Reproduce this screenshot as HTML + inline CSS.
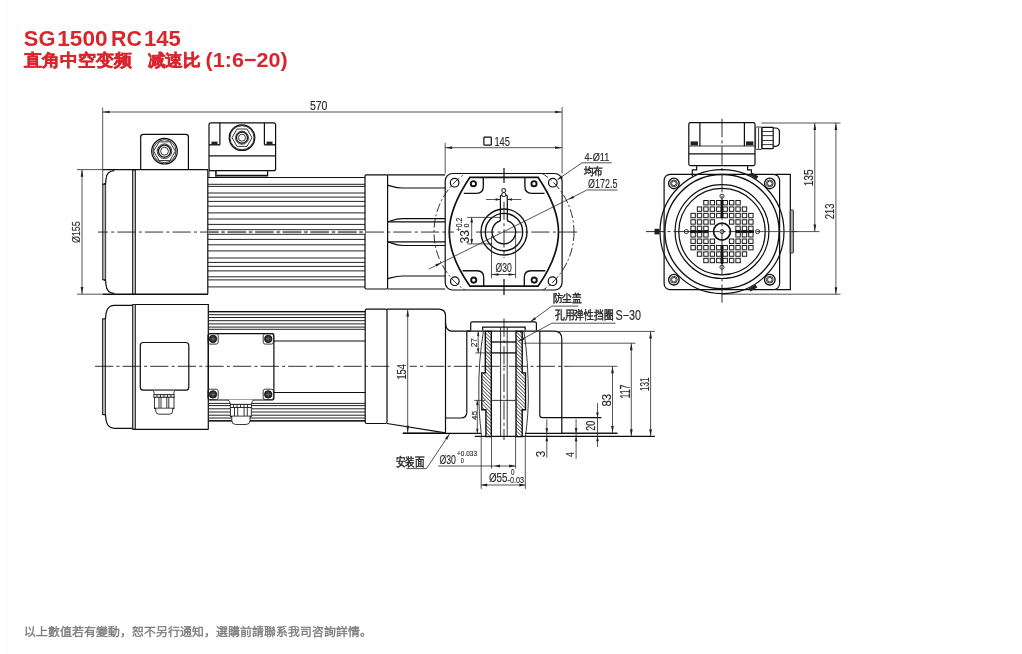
<!DOCTYPE html>
<html><head><meta charset="utf-8"><title>SG 1500 RC 145</title>
<style>
html,body{margin:0;padding:0;background:#fff;}
body{width:1022px;height:654px;position:relative;overflow:hidden;font-family:"Liberation Sans",sans-serif;}
.edge{position:absolute;left:7px;top:0;width:1px;height:654px;background:#fafafa;}
.ft{position:absolute;left:24px;top:624px;font-size:11.9px;color:#7c7c7c;-webkit-text-stroke:0.35px #7c7c7c;white-space:nowrap;line-height:16px;}
svg{position:absolute;left:0;top:0;will-change:transform;}
.l{stroke:#0d0d0d;stroke-width:1.2;fill:none;}
.lt{stroke:#111;stroke-width:1.35;fill:none;}
.lt2{stroke:#111;stroke-width:1.7;fill:none;}
.thin{stroke:#222;stroke-width:0.9;fill:none;}
.thinw{stroke:#222;stroke-width:0.9;fill:#fff;}
.rib{stroke:#222;stroke-width:1;fill:none;}
.band{stroke:#1a1a1a;stroke-width:0.85;fill:#b0b0b0;}
.fill{fill:#222;stroke:none;}
.ring{stroke:#111;stroke-width:1.9;fill:#fff;}
.screw{fill:#2a2a2a;stroke:#0d0d0d;stroke-width:0.9;}
.sx{stroke:#8a8a8a;stroke-width:0.6;}
.sq{stroke:#1a1a1a;stroke-width:1.0;fill:#fff;}
.bar{stroke:#111;stroke-width:2.2;}
.d{stroke:#2a2a2a;stroke-width:0.8;fill:none;}
.ah{fill:#222;stroke:none;}
.cl{stroke:#1a1a1a;stroke-width:0.9;stroke-dasharray:18.2 3.3 3 3.1;fill:none;}
.cc{stroke:#1a1a1a;stroke-width:0.9;stroke-dasharray:9 2.5 2 2.5;fill:none;}
.hatch{stroke:#0a0a0a;stroke-width:1.35;fill:url(#hp);}
.ttl{fill:#d9262c;font-weight:bold;font-family:"Liberation Sans",sans-serif;}
.ttlc{fill:#d9262c;stroke:#d9262c;stroke-width:0.45;font-weight:900;font-family:"Liberation Sans",sans-serif;}
.dt{fill:#2a2a2a;stroke:#2a2a2a;stroke-width:0.15;font-family:"Liberation Sans",sans-serif;}
.ct{fill:#222;stroke:#222;stroke-width:0.42;font-family:"Liberation Sans",sans-serif;}
</style></head>
<body>
<div class="edge"></div>
<svg width="1022" height="654" viewBox="0 0 1022 654">
<defs>
<pattern id="hp" patternUnits="userSpaceOnUse" width="2.5" height="2.5" patternTransform="rotate(-45)">
<rect width="2.5" height="2.5" fill="#fff"/><line x1="0" y1="0" x2="0" y2="2.5" stroke="#151515" stroke-width="1.2"/>
</pattern>
<clipPath id="pcdclip"><rect x="400" y="173.5" width="200" height="116.5"/></clipPath>
</defs>
<line class="d" x1="102.7" y1="107.5" x2="102.7" y2="184.5"/>
<line class="d" x1="562.1" y1="107" x2="562.1" y2="173.5"/>
<line class="d" x1="102.6" y1="112" x2="562.1" y2="112"/>
<path class="ah" d="M102.6 112L109.6 110.65L109.6 113.35Z"/>
<path class="ah" d="M562.1 112L555.1 113.35L555.1 110.65Z"/>
<text class="dt" x="309.88" y="109.77" font-size="12.96" textLength="17.58" lengthAdjust="spacingAndGlyphs">570</text>
<line class="d" x1="77" y1="169.6" x2="102.7" y2="169.6"/>
<line class="d" x1="77" y1="294.2" x2="102.7" y2="294.2"/>
<line class="d" x1="82" y1="169.8" x2="82" y2="294"/>
<path class="ah" d="M82 169.8L83.35 176.8L80.65 176.8Z"/>
<path class="ah" d="M82 294L80.65 287L83.35 287Z"/>
<text class="dt" x="79.63" y="243.06" font-size="10.74" textLength="21.83" lengthAdjust="spacingAndGlyphs" transform="rotate(-90 79.63 243.06)">&#216;155</text>
<line class="lt" x1="102.7" y1="169.6" x2="208" y2="169.6"/>
<line class="lt" x1="102.7" y1="294.2" x2="208" y2="294.2"/>
<line class="l" x1="207.8" y1="169.8" x2="207.8" y2="294"/>
<path class="l" d="M114.3 170.6 C109 170.8 106.5 173 106 179 L105.6 183.4 L102.7 184.6" />
<path class="l" d="M114.3 293.4 C109 293.2 106.5 291 106 285 L105.6 280.6 L102.7 279.4" />
<rect class="band" x="102.7" y="184.4" width="3" height="95.2" />
<rect class="band" x="132.5" y="170.2" width="3" height="123.6" />
<path class="l" d="M140.7 169.5 V137 Q140.7 134.3 143.4 134.3 H185.7 Q188.4 134.3 188.4 137 V169.5" />
<circle class="l" cx="164.5" cy="151.2" r="12.8" />
<circle class="thin" cx="164.5" cy="151.2" r="11.5" />
<polygon class="thin" points="175.3,151.2 169.9,160.55 159.1,160.55 153.7,151.2 159.1,141.85 169.9,141.85"/>
<circle class="thin" cx="164.5" cy="151.2" r="7.3" />
<circle class="l" cx="164.5" cy="151.2" r="6" />
<circle class="thin" cx="164.5" cy="151.2" r="3.9" />
<rect class="l" x="209" y="122.8" width="66.6" height="47.9" rx="2" />
<line class="lt" x1="209" y1="155.8" x2="275.6" y2="155.8"/>
<line class="l" x1="219.9" y1="122.8" x2="219.9" y2="144.8"/>
<line class="l" x1="264.4" y1="122.8" x2="264.4" y2="144.8"/>
<line class="lt" x1="209" y1="144.8" x2="219.9" y2="144.8"/>
<line class="lt" x1="264.4" y1="144.8" x2="275.6" y2="144.8"/>
<rect class="fill" x="211.5" y="141.6" width="6" height="3" />
<rect class="fill" x="266.5" y="141.6" width="6" height="3" />
<circle class="l" cx="242" cy="137.7" r="12.8" />
<circle class="thin" cx="242" cy="137.7" r="12" />
<polygon class="thin" points="252,137.7 247,146.36 237,146.36 232,137.7 237,129.04 247,129.04"/>
<circle class="thin" cx="242" cy="137.7" r="6.5" />
<circle class="l" cx="242" cy="137.7" r="5.5" />
<circle class="thin" cx="242" cy="137.7" r="3.5" />
<path class="l" d="M215.9 170.7 V176 H267.6 V170.7" />
<line class="lt" x1="216.5" y1="175.3" x2="267" y2="175.3"/>
<rect class="thin" x="209" y="170.7" width="6.9" height="6.8" />
<line class="l" x1="207.8" y1="177.5" x2="365" y2="177.5"/>
<line class="rib" x1="207.8" y1="184.3" x2="365" y2="184.3"/>
<line class="rib" x1="207.8" y1="186.4" x2="365" y2="186.4"/>
<line class="rib" x1="207.8" y1="193" x2="365" y2="193"/>
<line class="rib" x1="207.8" y1="197.1" x2="365" y2="197.1"/>
<line class="rib" x1="207.8" y1="201.4" x2="365" y2="201.4"/>
<line class="rib" x1="207.8" y1="206.2" x2="365" y2="206.2"/>
<line class="rib" x1="207.8" y1="212.9" x2="365" y2="212.9"/>
<line class="rib" x1="207.8" y1="219" x2="365" y2="219"/>
<line class="rib" x1="207.8" y1="224.4" x2="365" y2="224.4"/>
<line class="rib" x1="207.8" y1="229.7" x2="365" y2="229.7"/>
<line class="rib" x1="207.8" y1="234.3" x2="365" y2="234.3"/>
<line class="rib" x1="207.8" y1="239.4" x2="365" y2="239.4"/>
<line class="rib" x1="207.8" y1="244.8" x2="365" y2="244.8"/>
<line class="rib" x1="207.8" y1="250.9" x2="365" y2="250.9"/>
<line class="rib" x1="207.8" y1="258" x2="365" y2="258"/>
<line class="rib" x1="207.8" y1="262.4" x2="365" y2="262.4"/>
<line class="rib" x1="207.8" y1="266.4" x2="365" y2="266.4"/>
<line class="rib" x1="207.8" y1="270.9" x2="365" y2="270.9"/>
<line class="rib" x1="207.8" y1="276.8" x2="365" y2="276.8"/>
<line class="rib" x1="207.8" y1="279.9" x2="365" y2="279.9"/>
<line class="rib" x1="207.8" y1="286.9" x2="365" y2="286.9"/>
<rect class="l" x="365" y="174.8" width="22.6" height="114.2" rx="1.2" />
<line class="l" x1="387.6" y1="174.9" x2="445.2" y2="174.9"/>
<line class="l" x1="387.6" y1="289" x2="445.2" y2="289"/>
<path class="l" d="M387.6 185.2 C393 186.6 396 188 402.5 188 H445.2" />
<path class="l" d="M387.6 278.7 C393 277.3 396 276 402.5 276 H445.2" />
<path class="l" d="M387.6 221.9 C393 220.2 396 218.7 402.5 218.7 H445.2" />
<line class="l" x1="387.6" y1="221.9" x2="445.2" y2="221.9"/>
<path class="l" d="M387.6 241.8 C393 243.5 396 245.5 402.5 245.5 H445.2" />
<line class="l" x1="387.6" y1="241.8" x2="445.2" y2="241.8"/>
<rect class="l" x="445.2" y="173.5" width="116.9" height="116.5" rx="7.5" />
<circle class="l" cx="454.6" cy="182.7" r="4.3" />
<circle class="l" cx="552.8" cy="182.7" r="4.3" />
<circle class="l" cx="454.8" cy="281.2" r="4.3" />
<circle class="l" cx="552.5" cy="281.2" r="4.3" />
<path class="lt2" d="M470 177.3 H538 C548 192 558.5 212 558.5 232 C558.5 252 548 272 538 286.2 H470 C460 272 449.3 252 449.3 232 C449.3 212 460 192 470 177.3 Z" />
<path class="lt" d="M483.3 177.5 V186.6 Q483.3 193.4 476.5 193.4 H463.8" />
<path class="lt" d="M524.9 177.5 V186.6 Q524.9 193.4 531.7 193.4 H544.5" />
<path class="lt" d="M483.7 286 V277.5 Q483.7 270.7 476.9 270.7 H462.6" />
<path class="lt" d="M524.3 286 V277.5 Q524.3 270.7 531.1 270.7 H545.3" />
<circle class="ring" cx="473.4" cy="183.7" r="2.6" />
<circle class="ring" cx="534" cy="183.7" r="2.6" />
<circle class="ring" cx="473.7" cy="280.1" r="2.6" />
<circle class="ring" cx="534.2" cy="280.1" r="2.6" />
<circle class="lt" cx="504" cy="232" r="23" />
<circle class="lt" cx="504" cy="232" r="18.7" />
<path class="lt" d="M500.4 220.75 A11.8 11.8 0 1 0 507.3 220.75" />
<path class="l" d="M500.4 220.75 V196.6 Q500.4 195.1 501.9 195.1 M507.3 220.75 V196.6 Q507.3 195.1 505.8 195.1" />
<circle class="cc" cx="504" cy="232" r="70" clip-path="url(#pcdclip)"/>
<rect x="207.8" y="230.6" width="157.2" height="2.9" fill="#c6c6c6"/>
<line x1="207.8" y1="232.05" x2="365" y2="232.05" stroke="#fff" stroke-width="2.9" stroke-dasharray="2 4.2 2 19.4" stroke-dashoffset="16.45"/>
<line class="cl" x1="98" y1="232.05" x2="207.8" y2="232.05" stroke-dashoffset="8.3"/>
<line class="cl" x1="207.8" y1="232.05" x2="365" y2="232.05" stroke="#3a3a3a" stroke-width="0.8" stroke-dashoffset="7.70"/>
<line class="cl" x1="365" y1="232.05" x2="454" y2="232.05" stroke-dashoffset="26.90"/>
<line class="cl" x1="475" y1="232.05" x2="578" y2="232.05" stroke-dashoffset="26.5"/>
<line class="l" x1="504" y1="168" x2="504" y2="183"/>
<line class="cl" x1="504" y1="201.7" x2="504" y2="258"/>
<line class="l" x1="504" y1="279" x2="504" y2="295"/>
<line class="d" x1="445.2" y1="142.9" x2="445.2" y2="173.5"/>
<line class="d" x1="445.2" y1="147.7" x2="562.1" y2="147.7"/>
<path class="ah" d="M445.2 147.7L452.2 146.35L452.2 149.05Z"/>
<path class="ah" d="M562.1 147.7L555.1 149.05L555.1 146.35Z"/>
<rect class="l" x="483.9" y="137.1" width="7.4" height="8.1" rx="0.6" />
<text class="dt" x="494.4" y="145.57" font-size="13.14" textLength="15.5" lengthAdjust="spacingAndGlyphs">145</text>
<line class="d" x1="486" y1="199.5" x2="500.6" y2="199.5"/>
<line class="d" x1="507" y1="199.5" x2="521.4" y2="199.5"/>
<path class="ah" d="M500.6 199.5L495.6 200.85L495.6 198.15Z"/>
<path class="ah" d="M507 199.5L512 198.15L512 200.85Z"/>
<text class="dt" x="500.82" y="196.88" font-size="11.97" textLength="5.92" lengthAdjust="spacingAndGlyphs">8</text>
<line class="d" x1="467.2" y1="217.4" x2="500.6" y2="217.4"/>
<line class="d" x1="467.2" y1="243.9" x2="492.5" y2="243.9"/>
<line class="d" x1="471.7" y1="217.4" x2="471.7" y2="243.9"/>
<path class="ah" d="M471.7 217.4L473.05 222.4L470.35 222.4Z"/>
<path class="ah" d="M471.7 243.9L470.35 238.9L473.05 238.9Z"/>
<text class="dt" x="469.17" y="243.38" font-size="12.68" textLength="13.46" lengthAdjust="spacingAndGlyphs" transform="rotate(-90 469.17 243.38)">33</text>
<text class="dt" x="462.3" y="231.14" font-size="9.72" textLength="13.37" lengthAdjust="spacingAndGlyphs" transform="rotate(-90 462.3 231.14)">+0.2</text>
<text class="dt" x="469.22" y="227.48" font-size="8.03" textLength="3.86" lengthAdjust="spacingAndGlyphs" transform="rotate(-90 469.22 227.48)">0</text>
<line class="d" x1="491.5" y1="236" x2="491.5" y2="278.2"/>
<line class="d" x1="515.6" y1="236" x2="515.6" y2="278.2"/>
<line class="d" x1="491.5" y1="274.5" x2="515.6" y2="274.5"/>
<path class="ah" d="M491.5 274.5L498.5 273.15L498.5 275.85Z"/>
<path class="ah" d="M515.6 274.5L508.6 275.85L508.6 273.15Z"/>
<text class="dt" x="495.56" y="271.79" font-size="12.21" textLength="16.19" lengthAdjust="spacingAndGlyphs">&#216;30</text>
<line class="d" x1="428.8" y1="269.1" x2="586.6" y2="190.2"/>
<line class="d" x1="586.6" y1="190" x2="617.5" y2="190"/>
<path class="ah" d="M441.3 262.8L436.54 266.69L435.33 264.28Z"/>
<path class="ah" d="M568.3 199.6L573.06 195.71L574.27 198.12Z"/>
<text class="dt" x="588.04" y="188.39" font-size="12.21" textLength="29.32" lengthAdjust="spacingAndGlyphs">&#216;172.5</text>
<line class="d" x1="557.7" y1="179.5" x2="582" y2="162.8"/>
<line class="d" x1="582" y1="162.8" x2="611.7" y2="162.8"/>
<path class="ah" d="M557.2 180L561.37 175.48L562.91 177.7Z"/>
<text class="dt" x="584.47" y="160.82" font-size="11.28" textLength="24.89" lengthAdjust="spacingAndGlyphs">4-&#216;11</text>
<text class="ct" x="583.67" y="174.64" font-size="11.35" textLength="19.11" lengthAdjust="spacingAndGlyphs">&#22343;&#24067;</text>
<rect class="l" x="664.1" y="174.4" width="115.5" height="115.2" rx="6" />
<path class="l" d="M775.2 174.4 H790.3 V289.6 H775.2" />
<rect class="band" x="790.3" y="209.9" width="3.1" height="43.2" rx="0.8" />
<circle class="lt" cx="673.9" cy="183.4" r="5.3" />
<circle class="thin" cx="673.9" cy="183.4" r="3.4" />
<circle class="thin" cx="673.9" cy="183.4" r="2.3" />
<circle class="lt" cx="769.8" cy="183.4" r="5.3" />
<circle class="thin" cx="769.8" cy="183.4" r="3.4" />
<circle class="thin" cx="769.8" cy="183.4" r="2.3" />
<circle class="lt" cx="673.9" cy="279.7" r="5.3" />
<circle class="thin" cx="673.9" cy="279.7" r="3.4" />
<circle class="thin" cx="673.9" cy="279.7" r="2.3" />
<circle class="lt" cx="769.8" cy="279.7" r="5.3" />
<circle class="thin" cx="769.8" cy="279.7" r="3.4" />
<circle class="thin" cx="769.8" cy="279.7" r="2.3" />
<circle class="l" cx="722" cy="231.6" r="62" fill="#fff"/>
<circle class="lt" cx="722" cy="231.6" r="57.1" />
<circle class="l" cx="722" cy="231.6" r="46.9" />
<circle class="l" cx="722" cy="231.6" r="43.2" />
<rect class="l" x="688.8" y="122.7" width="66.2" height="42.9" rx="1.5" fill="#fff"/>
<line class="lt" x1="688.8" y1="153.9" x2="755" y2="153.9"/>
<line class="thin" x1="688.8" y1="146" x2="755" y2="146"/>
<line class="l" x1="699.9" y1="122.7" x2="699.9" y2="146"/>
<line class="l" x1="744.4" y1="122.7" x2="744.4" y2="146"/>
<rect class="fill" x="690.6" y="141.4" width="7.4" height="4" />
<rect class="fill" x="746" y="141.4" width="7.4" height="4" />
<path class="l" d="M692.3 176 V169.8 H696.7 V165.6" />
<path class="l" d="M751.4 176 V169.8 H747.6 V165.6" />
<rect class="thinw" x="755.6" y="127" width="6.3" height="22.4" rx="0.8" />
<line class="thin" x1="758.6" y1="127.6" x2="758.6" y2="148.8"/>
<rect class="l" x="761.9" y="127.4" width="11.3" height="21.3" rx="0.6" />
<line class="thin" x1="761.9" y1="131.5" x2="773.2" y2="131.5"/>
<line class="thin" x1="761.9" y1="135.6" x2="773.2" y2="135.6"/>
<line class="thin" x1="761.9" y1="140.5" x2="773.2" y2="140.5"/>
<line class="thin" x1="761.9" y1="144.6" x2="773.2" y2="144.6"/>
<path class="l" d="M773.2 128 H775.5 Q779.4 128 779.4 132 V142.3 Q779.4 146.3 775.5 146.3 H773.2" />
<rect class="fill" x="750" y="174" width="8" height="3.6" transform="rotate(30 754 175.8)"/>
<rect class="fill" x="749" y="286.2" width="8" height="3.6" transform="rotate(-30 753 288)"/>
<rect class="fill" x="654.5" y="228.8" width="5" height="5.6" />
<rect class="sq" x="703.75" y="200.51" width="4.4" height="4.4" />
<rect class="sq" x="710.17" y="200.51" width="4.4" height="4.4" />
<rect class="sq" x="716.59" y="200.51" width="4.4" height="4.4" />
<rect class="sq" x="723.01" y="200.51" width="4.4" height="4.4" />
<rect class="sq" x="729.43" y="200.51" width="4.4" height="4.4" />
<rect class="sq" x="735.85" y="200.51" width="4.4" height="4.4" />
<rect class="sq" x="697.33" y="206.93" width="4.4" height="4.4" />
<rect class="sq" x="703.75" y="206.93" width="4.4" height="4.4" />
<rect class="sq" x="710.17" y="206.93" width="4.4" height="4.4" />
<rect class="sq" x="716.59" y="206.93" width="4.4" height="4.4" />
<rect class="sq" x="723.01" y="206.93" width="4.4" height="4.4" />
<rect class="sq" x="729.43" y="206.93" width="4.4" height="4.4" />
<rect class="sq" x="735.85" y="206.93" width="4.4" height="4.4" />
<rect class="sq" x="742.27" y="206.93" width="4.4" height="4.4" />
<rect class="sq" x="690.91" y="213.35" width="4.4" height="4.4" />
<rect class="sq" x="697.33" y="213.35" width="4.4" height="4.4" />
<rect class="sq" x="703.75" y="213.35" width="4.4" height="4.4" />
<rect class="sq" x="710.17" y="213.35" width="4.4" height="4.4" />
<rect class="sq" x="716.59" y="213.35" width="4.4" height="4.4" />
<rect class="sq" x="723.01" y="213.35" width="4.4" height="4.4" />
<rect class="sq" x="729.43" y="213.35" width="4.4" height="4.4" />
<rect class="sq" x="735.85" y="213.35" width="4.4" height="4.4" />
<rect class="sq" x="742.27" y="213.35" width="4.4" height="4.4" />
<rect class="sq" x="748.69" y="213.35" width="4.4" height="4.4" />
<rect class="sq" x="690.91" y="219.77" width="4.4" height="4.4" />
<rect class="sq" x="697.33" y="219.77" width="4.4" height="4.4" />
<rect class="sq" x="703.75" y="219.77" width="4.4" height="4.4" />
<rect class="sq" x="710.17" y="219.77" width="4.4" height="4.4" />
<rect class="sq" x="729.43" y="219.77" width="4.4" height="4.4" />
<rect class="sq" x="735.85" y="219.77" width="4.4" height="4.4" />
<rect class="sq" x="742.27" y="219.77" width="4.4" height="4.4" />
<rect class="sq" x="748.69" y="219.77" width="4.4" height="4.4" />
<rect class="sq" x="690.91" y="226.19" width="4.4" height="4.4" />
<rect class="sq" x="697.33" y="226.19" width="4.4" height="4.4" />
<rect class="sq" x="703.75" y="226.19" width="4.4" height="4.4" />
<rect class="sq" x="735.85" y="226.19" width="4.4" height="4.4" />
<rect class="sq" x="742.27" y="226.19" width="4.4" height="4.4" />
<rect class="sq" x="748.69" y="226.19" width="4.4" height="4.4" />
<rect class="sq" x="690.91" y="232.61" width="4.4" height="4.4" />
<rect class="sq" x="697.33" y="232.61" width="4.4" height="4.4" />
<rect class="sq" x="703.75" y="232.61" width="4.4" height="4.4" />
<rect class="sq" x="735.85" y="232.61" width="4.4" height="4.4" />
<rect class="sq" x="742.27" y="232.61" width="4.4" height="4.4" />
<rect class="sq" x="748.69" y="232.61" width="4.4" height="4.4" />
<rect class="sq" x="690.91" y="239.03" width="4.4" height="4.4" />
<rect class="sq" x="697.33" y="239.03" width="4.4" height="4.4" />
<rect class="sq" x="703.75" y="239.03" width="4.4" height="4.4" />
<rect class="sq" x="710.17" y="239.03" width="4.4" height="4.4" />
<rect class="sq" x="729.43" y="239.03" width="4.4" height="4.4" />
<rect class="sq" x="735.85" y="239.03" width="4.4" height="4.4" />
<rect class="sq" x="742.27" y="239.03" width="4.4" height="4.4" />
<rect class="sq" x="748.69" y="239.03" width="4.4" height="4.4" />
<rect class="sq" x="690.91" y="245.45" width="4.4" height="4.4" />
<rect class="sq" x="697.33" y="245.45" width="4.4" height="4.4" />
<rect class="sq" x="703.75" y="245.45" width="4.4" height="4.4" />
<rect class="sq" x="710.17" y="245.45" width="4.4" height="4.4" />
<rect class="sq" x="716.59" y="245.45" width="4.4" height="4.4" />
<rect class="sq" x="723.01" y="245.45" width="4.4" height="4.4" />
<rect class="sq" x="729.43" y="245.45" width="4.4" height="4.4" />
<rect class="sq" x="735.85" y="245.45" width="4.4" height="4.4" />
<rect class="sq" x="742.27" y="245.45" width="4.4" height="4.4" />
<rect class="sq" x="748.69" y="245.45" width="4.4" height="4.4" />
<rect class="sq" x="697.33" y="251.87" width="4.4" height="4.4" />
<rect class="sq" x="703.75" y="251.87" width="4.4" height="4.4" />
<rect class="sq" x="710.17" y="251.87" width="4.4" height="4.4" />
<rect class="sq" x="716.59" y="251.87" width="4.4" height="4.4" />
<rect class="sq" x="723.01" y="251.87" width="4.4" height="4.4" />
<rect class="sq" x="729.43" y="251.87" width="4.4" height="4.4" />
<rect class="sq" x="735.85" y="251.87" width="4.4" height="4.4" />
<rect class="sq" x="742.27" y="251.87" width="4.4" height="4.4" />
<rect class="sq" x="703.75" y="258.29" width="4.4" height="4.4" />
<rect class="sq" x="710.17" y="258.29" width="4.4" height="4.4" />
<rect class="sq" x="716.59" y="258.29" width="4.4" height="4.4" />
<rect class="sq" x="723.01" y="258.29" width="4.4" height="4.4" />
<rect class="sq" x="729.43" y="258.29" width="4.4" height="4.4" />
<rect class="sq" x="735.85" y="258.29" width="4.4" height="4.4" />
<line class="bar" x1="722" y1="199.4" x2="722" y2="218"/>
<line class="bar" x1="722" y1="245.2" x2="722" y2="264"/>
<line class="bar" x1="690" y1="231.6" x2="708.6" y2="231.6"/>
<line class="bar" x1="735.4" y1="231.6" x2="754" y2="231.6"/>
<circle class="lt2" cx="722" cy="231.6" r="8.45" />
<circle class="thin" cx="722" cy="231.6" r="2" />
<circle class="thin" cx="722" cy="196.2" r="2.1" />
<circle class="thin" cx="722" cy="267.2" r="2.1" />
<circle class="thin" cx="686.3" cy="231.6" r="2.1" />
<circle class="thin" cx="757.5" cy="231.6" r="2.1" />
<line class="cl" x1="722" y1="118.9" x2="722" y2="303"/>
<line class="cl" x1="646" y1="231.6" x2="760" y2="231.6"/>
<line class="d" x1="760" y1="231.6" x2="797" y2="231.6"/>
<line class="d" x1="761.6" y1="123" x2="840.5" y2="123"/>
<line class="d" x1="792" y1="231.6" x2="819.4" y2="231.6"/>
<line class="d" x1="722" y1="294.2" x2="840.5" y2="294.2"/>
<line class="d" x1="814.8" y1="123" x2="814.8" y2="231.6"/>
<path class="ah" d="M814.8 123L816.15 130L813.45 130Z"/>
<path class="ah" d="M814.8 231.6L813.45 224.6L816.15 224.6Z"/>
<line class="d" x1="835.9" y1="123" x2="835.9" y2="294.2"/>
<path class="ah" d="M835.9 123L837.25 130L834.55 130Z"/>
<path class="ah" d="M835.9 294.2L834.55 287.2L837.25 287.2Z"/>
<text class="dt" x="813.38" y="186.37" font-size="12.39" textLength="17.12" lengthAdjust="spacingAndGlyphs" transform="rotate(-90 813.38 186.37)">135</text>
<text class="dt" x="833.87" y="219.17" font-size="12.82" textLength="15.62" lengthAdjust="spacingAndGlyphs" transform="rotate(-90 833.87 219.17)">213</text>
<line class="l" x1="132.5" y1="304.5" x2="208.3" y2="304.5"/>
<line class="l" x1="132.5" y1="429.3" x2="208.3" y2="429.3"/>
<line class="l" x1="208.3" y1="304" x2="208.3" y2="429.4"/>
<path class="l" d="M132.5 305.3 H114.5 C108 305.5 106 310 105.5 318.6 L102.4 319.3" />
<path class="l" d="M132.5 428.3 H114.5 C108 428.1 106 423.6 105.5 415 L102.4 414.3" />
<rect class="band" x="102.4" y="319" width="3.1" height="95.6" />
<rect class="band" x="132.5" y="304.6" width="2.9" height="124.4" />
<rect class="l" x="140.3" y="342.5" width="48.5" height="47.7" rx="3" />
<path class="thinw" d="M153.3 390.8 Q154.2 391.5 154.2 394.7 H173.8 Q173.8 391.5 174.7 390.8" />
<rect class="thinw" x="153.8" y="394.7" width="20.4" height="2.6" />
<line class="thin" x1="157" y1="394.7" x2="157" y2="397.3"/>
<line class="thin" x1="160.5" y1="394.7" x2="160.5" y2="397.3"/>
<line class="thin" x1="164" y1="394.7" x2="164" y2="397.3"/>
<line class="thin" x1="167.5" y1="394.7" x2="167.5" y2="397.3"/>
<line class="thin" x1="171" y1="394.7" x2="171" y2="397.3"/>
<rect class="thinw" x="154.5" y="397.3" width="19.5" height="11.1" />
<line class="thin" x1="159" y1="397.3" x2="159" y2="408.4"/>
<line class="thin" x1="161" y1="397.3" x2="161" y2="408.4"/>
<line class="thin" x1="166.8" y1="397.3" x2="166.8" y2="408.4"/>
<line class="thin" x1="168.8" y1="397.3" x2="168.8" y2="408.4"/>
<line class="l" x1="154.5" y1="408.4" x2="174" y2="408.4"/>
<path class="thinw" d="M155.8 408.4 V411 Q155.8 414.2 159 414.2 H169.5 Q172.7 414.2 172.7 411 V408.4" />
<line class="rib" x1="208.3" y1="311.7" x2="365.2" y2="311.7"/>
<line class="rib" x1="208.3" y1="314.7" x2="365.2" y2="314.7"/>
<line class="rib" x1="208.3" y1="317.5" x2="365.2" y2="317.5"/>
<line class="rib" x1="208.3" y1="320.7" x2="365.2" y2="320.7"/>
<line class="rib" x1="208.3" y1="323.9" x2="365.2" y2="323.9"/>
<line class="rib" x1="208.3" y1="327.1" x2="365.2" y2="327.1"/>
<line class="rib" x1="208.3" y1="329.3" x2="365.2" y2="329.3"/>
<line class="rib" x1="208.3" y1="403.4" x2="365.2" y2="403.4"/>
<line class="rib" x1="208.3" y1="405.6" x2="365.2" y2="405.6"/>
<line class="rib" x1="208.3" y1="408.8" x2="365.2" y2="408.8"/>
<line class="rib" x1="208.3" y1="412" x2="365.2" y2="412"/>
<line class="rib" x1="208.3" y1="415.2" x2="365.2" y2="415.2"/>
<line class="rib" x1="208.3" y1="418" x2="365.2" y2="418"/>
<line class="rib" x1="208.3" y1="420.8" x2="365.2" y2="420.8"/>
<line class="l" x1="208.3" y1="311.7" x2="365.2" y2="311.7"/>
<line class="l" x1="208.3" y1="420.8" x2="365.2" y2="420.8"/>
<rect class="l" x="208.3" y="333.6" width="65.6" height="66.4" rx="1.5" fill="#fff"/>
<line class="l" x1="273.9" y1="341" x2="365.2" y2="341"/>
<line class="l" x1="273.9" y1="392.5" x2="365.2" y2="392.5"/>
<rect class="thin" x="208" y="333.7" width="10.2" height="10.4" rx="2" />
<circle class="screw" cx="213" cy="338.9" r="3.7" />
<line class="sx" x1="210.4" y1="338.9" x2="215.6" y2="338.9"/>
<line class="sx" x1="213" y1="336.3" x2="213" y2="341.5"/>
<rect class="thin" x="263.2" y="333.7" width="10.2" height="10.4" rx="2" />
<circle class="screw" cx="268.2" cy="338.9" r="3.7" />
<line class="sx" x1="265.6" y1="338.9" x2="270.8" y2="338.9"/>
<line class="sx" x1="268.2" y1="336.3" x2="268.2" y2="341.5"/>
<rect class="thin" x="208" y="389.2" width="10.2" height="10.4" rx="2" />
<circle class="screw" cx="213" cy="394.4" r="3.7" />
<line class="sx" x1="210.4" y1="394.4" x2="215.6" y2="394.4"/>
<line class="sx" x1="213" y1="391.8" x2="213" y2="397"/>
<rect class="thin" x="263.2" y="389.2" width="10.2" height="10.4" rx="2" />
<circle class="screw" cx="268.2" cy="394.4" r="3.7" />
<line class="sx" x1="265.6" y1="394.4" x2="270.8" y2="394.4"/>
<line class="sx" x1="268.2" y1="391.8" x2="268.2" y2="397"/>
<path class="thinw" d="M227.5 399.7 Q230 400.5 230.4 404.4 H251.6 Q252 400.5 253.7 399.7" />
<rect class="thinw" x="230.4" y="404.4" width="21.2" height="3.1" />
<line class="thin" x1="233.5" y1="404.4" x2="233.5" y2="407.5"/>
<line class="thin" x1="237" y1="404.4" x2="237" y2="407.5"/>
<line class="thin" x1="240.5" y1="404.4" x2="240.5" y2="407.5"/>
<line class="thin" x1="244" y1="404.4" x2="244" y2="407.5"/>
<line class="thin" x1="247.5" y1="404.4" x2="247.5" y2="407.5"/>
<rect class="thinw" x="230.4" y="407.5" width="20.9" height="8.9" />
<line class="thin" x1="234.5" y1="407.5" x2="234.5" y2="416.4"/>
<line class="thin" x1="237.7" y1="407.5" x2="237.7" y2="416.4"/>
<line class="thin" x1="244.1" y1="407.5" x2="244.1" y2="416.4"/>
<line class="thin" x1="247.3" y1="407.5" x2="247.3" y2="416.4"/>
<line class="lt" x1="230.4" y1="416.4" x2="251.3" y2="416.4"/>
<path class="thinw" d="M231.8 416.4 V420.5 Q231.8 424.5 235.8 424.5 H246 Q250 424.5 250 420.5 V416.4" />
<rect class="l" x="365.2" y="309.2" width="21.8" height="114.3" rx="1.5" />
<path class="l" d="M387 309.2 H438.7 Q445.5 309.2 445.5 316 V322 Q445.5 331.2 452 331.2 H470.6" />
<line class="l" x1="387" y1="423.5" x2="445.5" y2="432.8"/>
<line class="l" x1="445.5" y1="322" x2="445.5" y2="433.3"/>
<line class="l" x1="466.8" y1="331.2" x2="466.8" y2="412.3"/>
<path class="l" d="M466.8 412.3 Q466.8 418 461 418 H445.5" />
<line class="d" x1="407.7" y1="309.4" x2="407.7" y2="432.8"/>
<path class="ah" d="M407.7 309.4L409.05 316.4L406.35 316.4Z"/>
<path class="ah" d="M407.7 432.8L406.35 425.8L409.05 425.8Z"/>
<line class="d" x1="403" y1="432.8" x2="445.5" y2="432.8"/>
<text class="dt" x="405.67" y="379.61" font-size="13.43" textLength="15.72" lengthAdjust="spacingAndGlyphs" transform="rotate(-90 405.67 379.61)">154</text>
<line class="l" x1="466.8" y1="331.2" x2="554" y2="331.2"/>
<path class="l" d="M470.7 330.6 V323.4 Q470.7 321.9 472.2 321.9 H534.9 Q536.4 321.9 536.4 323.4 V330.6" />
<path class="l" d="M482.7 330.6 V327.2 H525.1 V330.6" />
<line class="l" x1="539.8" y1="331.2" x2="539.8" y2="414.9"/>
<path class="l" d="M539.8 414.9 Q539.8 417.6 542.5 417.6 H601.4" />
<path class="l" d="M554 331.2 Q561.8 331.2 561.8 339 V433.2" />
<line class="l" x1="402.6" y1="433.3" x2="481.2" y2="433.3"/>
<line class="l" x1="525" y1="433.3" x2="617.4" y2="433.3"/>
<line class="lt" x1="474.7" y1="436.3" x2="555" y2="436.3"/>
<path class="hatch" d="M485.3 331.3 H491.3 V436.6 H485.9 V409.7 H481.8 V372.8 H485.3 Z"/>
<path class="hatch" d="M516.0 331.3 H522.2 V372.8 H525.5 V409.7 H522.2 V436.6 H516.0 Z"/>
<path class="thin" d="M483.4 331.3 C480 352 478.5 372 478.8 395 C479 415 480.5 425 481.5 436.5" />
<path class="thin" d="M524.0 331.3 C527 352 528.2 372 528.4 395 C528.2 415 526.8 425 525.5 436.5" />
<line class="thin" x1="500.6" y1="327.2" x2="500.6" y2="436.6"/>
<line class="thin" x1="507.2" y1="327.2" x2="507.2" y2="436.6"/>
<line class="lt" x1="491.3" y1="342" x2="516" y2="342"/>
<line class="lt" x1="491.3" y1="352.9" x2="516" y2="352.9"/>
<line class="thin" x1="491.3" y1="400.4" x2="516" y2="400.4"/>
<line class="cl" x1="504" y1="318.6" x2="504" y2="440"/>
<line class="cl" x1="95" y1="366.3" x2="392.5" y2="366.3"/>
<line class="cl" x1="409.7" y1="366.3" x2="569" y2="366.3" stroke-dashoffset="11.10"/>
<line class="d" x1="478.2" y1="331.3" x2="478.2" y2="352.9"/>
<line class="d" x1="475.3" y1="352.9" x2="491.3" y2="352.9"/>
<path class="ah" d="M478.2 331.3L479.4 335.8L477 335.8Z"/>
<path class="ah" d="M478.2 352.9L477 348.4L479.4 348.4Z"/>
<text class="dt" x="477" y="347.32" font-size="8.14" textLength="9.36" lengthAdjust="spacingAndGlyphs" transform="rotate(-90 477 347.32)">27</text>
<line class="d" x1="474.2" y1="400.4" x2="485.3" y2="400.4"/>
<line class="d" x1="477.3" y1="400.4" x2="477.3" y2="433.3"/>
<path class="ah" d="M477.3 400.4L478.5 404.9L476.1 404.9Z"/>
<path class="ah" d="M477.3 433.3L476.1 428.8L478.5 428.8Z"/>
<text class="dt" x="476.93" y="420.01" font-size="7.43" textLength="9.15" lengthAdjust="spacingAndGlyphs" transform="rotate(-90 476.93 420.01)">45</text>
<line class="d" x1="556" y1="331.4" x2="654.9" y2="331.4"/>
<line class="d" x1="523.4" y1="343.2" x2="635.6" y2="343.2"/>
<line class="d" x1="569" y1="366.3" x2="617.4" y2="366.3"/>
<line class="l" x1="555" y1="436.3" x2="654.9" y2="436.3"/>
<line class="d" x1="562" y1="433.1" x2="617.4" y2="433.1"/>
<line class="d" x1="612.5" y1="366.3" x2="612.5" y2="433.1"/>
<path class="ah" d="M612.5 366.3L613.85 373.3L611.15 373.3Z"/>
<path class="ah" d="M612.5 433.1L611.15 426.1L613.85 426.1Z"/>
<text class="dt" x="610.97" y="406.61" font-size="13.24" textLength="12.65" lengthAdjust="spacingAndGlyphs" transform="rotate(-90 610.97 406.61)">83</text>
<line class="d" x1="631.3" y1="343.2" x2="631.3" y2="436.3"/>
<path class="ah" d="M631.3 343.2L632.65 350.2L629.95 350.2Z"/>
<path class="ah" d="M631.3 436.3L629.95 429.3L632.65 429.3Z"/>
<text class="dt" x="629.8" y="398.45" font-size="13.77" textLength="13.88" lengthAdjust="spacingAndGlyphs" transform="rotate(-90 629.8 398.45)">117</text>
<line class="d" x1="650.6" y1="331.4" x2="650.6" y2="436.3"/>
<path class="ah" d="M650.6 331.4L651.95 338.4L649.25 338.4Z"/>
<path class="ah" d="M650.6 436.3L649.25 429.3L651.95 429.3Z"/>
<text class="dt" x="648.67" y="391.11" font-size="12.96" textLength="13.54" lengthAdjust="spacingAndGlyphs" transform="rotate(-90 648.67 391.11)">131</text>
<line class="d" x1="597.5" y1="403.1" x2="597.5" y2="447"/>
<path class="ah" d="M597.5 417.6L596.15 412.6L598.85 412.6Z"/>
<path class="ah" d="M597.5 436.3L598.85 441.3L596.15 441.3Z"/>
<text class="dt" x="594.87" y="430.75" font-size="12.82" textLength="10.03" lengthAdjust="spacingAndGlyphs" transform="rotate(-90 594.87 430.75)">20</text>
<line class="d" x1="546.8" y1="419.2" x2="546.8" y2="457.7"/>
<path class="ah" d="M546.8 433.3L545.45 428.3L548.15 428.3Z"/>
<path class="ah" d="M546.8 436.3L548.15 441.3L545.45 441.3Z"/>
<text class="dt" x="544.88" y="457.37" font-size="12.39" textLength="6.51" lengthAdjust="spacingAndGlyphs" transform="rotate(-90 544.88 457.37)">3</text>
<line class="d" x1="576.1" y1="419.2" x2="576.1" y2="458.8"/>
<path class="ah" d="M576.1 433.1L574.75 428.1L577.45 428.1Z"/>
<path class="ah" d="M576.1 436.3L577.45 441.3L574.75 441.3Z"/>
<text class="dt" x="574" y="457.11" font-size="11.59" textLength="4.78" lengthAdjust="spacingAndGlyphs" transform="rotate(-90 574 457.11)">4</text>
<line class="d" x1="491.5" y1="437" x2="491.5" y2="468.5"/>
<line class="d" x1="515.6" y1="437" x2="515.6" y2="468.5"/>
<line class="d" x1="438" y1="466" x2="515.6" y2="466"/>
<path class="ah" d="M494.5 466L500 464.6L500 467.4Z"/>
<path class="ah" d="M515.6 466L509.1 467.4L509.1 464.6Z"/>
<text class="dt" x="439.45" y="463.57" font-size="13.02" textLength="16.5" lengthAdjust="spacingAndGlyphs">&#216;30</text>
<text class="dt" x="457.08" y="456.32" font-size="8.03" textLength="19.92" lengthAdjust="spacingAndGlyphs">+0.033</text>
<text class="dt" x="460.68" y="463.43" font-size="7.46" textLength="3.04" lengthAdjust="spacingAndGlyphs">0</text>
<line class="d" x1="481.2" y1="437" x2="481.2" y2="488.9"/>
<line class="d" x1="525.3" y1="437" x2="525.3" y2="488.9"/>
<line class="d" x1="481.2" y1="485" x2="525.3" y2="485"/>
<path class="ah" d="M481.2 485L487.2 483.6L487.2 486.4Z"/>
<path class="ah" d="M525.3 485L519.3 486.4L519.3 483.6Z"/>
<text class="dt" x="488.91" y="482.49" font-size="12.21" textLength="18.48" lengthAdjust="spacingAndGlyphs">&#216;55</text>
<text class="dt" x="510.95" y="474.72" font-size="8.17" textLength="3.51" lengthAdjust="spacingAndGlyphs">0</text>
<text class="dt" x="507.47" y="482.71" font-size="9.3" textLength="16.65" lengthAdjust="spacingAndGlyphs">-0.03</text>
<text class="ct" x="395.67" y="465.99" font-size="11.83" textLength="29.17" lengthAdjust="spacingAndGlyphs">&#23433;&#35013;&#38754;</text>
<line class="d" x1="406.3" y1="468.6" x2="426.5" y2="468.6"/>
<line class="d" x1="426.5" y1="468.6" x2="449.5" y2="434"/>
<path class="ah" d="M449.5 434L447.26 439.73L445.03 438.22Z"/>
<text class="ct" x="552.61" y="301.81" font-size="11.14" textLength="29.63" lengthAdjust="spacingAndGlyphs">&#38450;&#23576;&#30422;</text>
<line class="d" x1="551.9" y1="306.1" x2="578.3" y2="306.1"/>
<line class="d" x1="551.9" y1="306.1" x2="530.4" y2="321.7"/>
<path class="ah" d="M530.4 321.7L534.52 317.13L536.08 319.34Z"/>
<text class="ct" x="554.96" y="319.31" font-size="11.68" textLength="58.42" lengthAdjust="spacingAndGlyphs">&#23380;&#29992;&#24377;&#24615;&#25377;&#22280;</text>
<text class="dt" x="615.52" y="319.66" font-size="13.8" textLength="25.45" lengthAdjust="spacingAndGlyphs">S&#8722;30</text>
<line class="d" x1="551.9" y1="323.2" x2="615.5" y2="323.2"/>
<line class="d" x1="551.9" y1="323.2" x2="518.7" y2="341.1"/>
<path class="ah" d="M518.7 341.1L523.41 337.15L524.65 339.54Z"/>
<text class="ttl" x="23.85" y="46.25" font-size="22.2" textLength="31.56" lengthAdjust="spacingAndGlyphs">SG</text>
<text class="ttl" x="57.3" y="46.25" font-size="22.2" textLength="50.3" lengthAdjust="spacingAndGlyphs">1500</text>
<text class="ttl" x="111" y="46.25" font-size="22.2" textLength="30.8" lengthAdjust="spacingAndGlyphs">RC</text>
<text class="ttl" x="144" y="46.25" font-size="22.2" textLength="36.9" lengthAdjust="spacingAndGlyphs">145</text>
<text class="ttlc" x="23.7" y="66.2" font-size="17.3" textLength="107.8" lengthAdjust="spacingAndGlyphs">直角中空变频</text>
<text class="ttlc" x="147.6" y="66.2" font-size="17.2" textLength="53" lengthAdjust="spacingAndGlyphs">减速比</text>
<text class="ttl" x="205.6" y="67" font-size="21" textLength="82" lengthAdjust="spacingAndGlyphs">(1:6−20)</text>
</svg>
<div class="ft" lang="zh-CN">以上數值若有變動，恕不另行通知，選購前請聯系我司咨詢詳情。</div>
</body></html>
